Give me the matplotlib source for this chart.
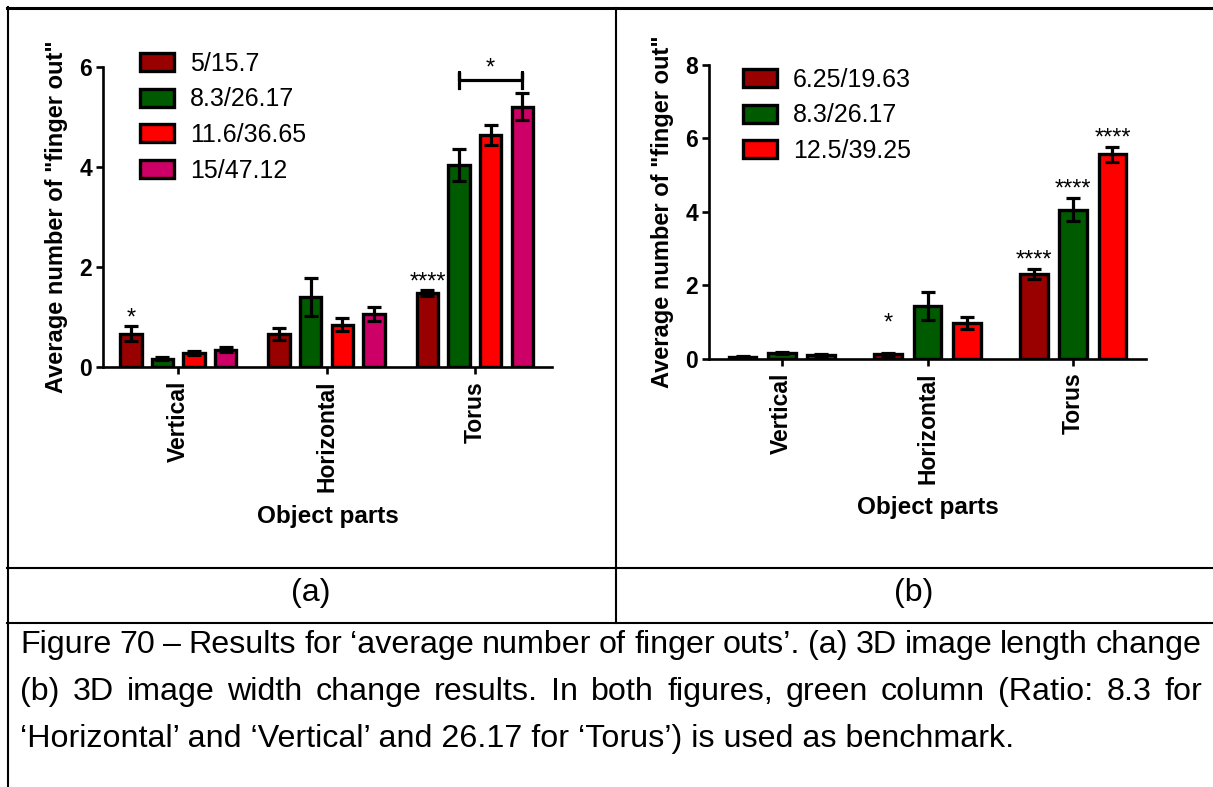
import numpy as np
import matplotlib
matplotlib.use('Agg')
import matplotlib.pyplot as plt
from matplotlib.lines import Line2D

plt.rcParams['font.family'] = ['Liberation Sans', 'DejaVu Sans']

# ---------------- DATA ----------------
parts = ['Vertical', 'Horizontal', 'Torus']

# (a) 3D image length change
a_labels = ['5/15.7', '8.3/26.17', '11.6/36.65', '15/47.12']
a_means = [[0.67, 0.67, 1.49],
           [0.17, 1.41, 4.04],
           [0.29, 0.85, 4.63],
           [0.35, 1.07, 5.20]]
a_sem = [[0.15, 0.12, 0.06],
         [0.03, 0.38, 0.32],
         [0.04, 0.13, 0.20],
         [0.05, 0.14, 0.27]]
a_colors = ['#990000', '#005a00', '#ff0000', '#cc0066']
# (series, part, text, offset in points above error bar)
a_stars = [(0, 0, '*', 1), (0, 2, '****', 1)]
a_bracket = (1, 3, 2, 5.73, '*')   # from series, to series, part, height, text

# (b) 3D image width change
b_labels = ['6.25/19.63', '8.3/26.17', '12.5/39.25']
b_means = [[0.05, 0.12, 2.30],
           [0.15, 1.43, 4.06],
           [0.10, 0.97, 5.57]]
b_sem = [[0.02, 0.04, 0.13],
         [0.03, 0.38, 0.32],
         [0.02, 0.17, 0.20]]
b_colors = ['#990000', '#005a00', '#ff0000']
b_stars = [(0, 1, '*', 17), (0, 2, '****', 2), (1, 2, '****', 2), (2, 2, '****', 2)]

caption = ["Figure 70 \u2013 Results for \u2018average number of finger outs\u2019. (a) 3D image length change",
           "(b) 3D image width change results. In both figures, green column (Ratio: 8.3 for",
           "\u2018Horizontal\u2019 and \u2018Vertical\u2019 and 26.17 for \u2018Torus\u2019) is used as benchmark."]

W, H = 1213, 787
fig = plt.figure(figsize=(W / 100, H / 100), dpi=100)


def px_axes(x0, y0, x1, y1):
    return fig.add_axes([x0 / W, 1 - y1 / H, (x1 - x0) / W, (y1 - y0) / H])


def bar_chart(ax, means, sem, labels, colors, slot, width, ymax, step, capsize):
    x = np.arange(len(parts))
    n = len(means)
    centers = []
    for i in range(n):
        xi = x + (i - (n - 1) / 2) * slot
        centers.append(xi)
        ax.bar(xi, means[i], width, color=colors[i], edgecolor='black',
               linewidth=2.4, label=labels[i], zorder=2)
        ax.errorbar(xi, means[i], yerr=sem[i], fmt='none', ecolor='black',
                    elinewidth=2.3, capsize=capsize, capthick=2.3, zorder=3)
    ax.set_ylim(0, ymax)
    ax.set_yticks(np.arange(0, ymax + 0.1, step))
    ax.set_xticks(x)
    ax.set_xticklabels(parts, rotation=90, fontsize=16.5, fontweight='bold')
    for t in ax.get_yticklabels():
        t.set_fontsize(16.5)
        t.set_fontweight('bold')
    for s in ['top', 'right']:
        ax.spines[s].set_visible(False)
    for s in ['left', 'bottom']:
        ax.spines[s].set_linewidth(1.9)
    ax.tick_params(axis='both', width=1.9, length=5, pad=3)
    ax.tick_params(axis='x', pad=5)
    ax.set_ylabel('Average number of "finger out"', fontsize=17,
                  fontweight='bold', labelpad=8)
    ax.set_xlabel('Object parts', fontsize=17.5, fontweight='bold', labelpad=9)
    return centers


def stars(ax, centers, means, sem, items):
    for i, p, txt, off in items:
        ax.annotate(txt, (centers[i][p], means[i][p] + sem[i][p]),
                    xytext=(0, off), textcoords='offset points',
                    ha='center', va='baseline', fontsize=17, annotation_clip=False)


def legend(ax, x, y):
    ax.legend(loc='upper left', bbox_to_anchor=(x / W, 1 - y / H),
              bbox_transform=fig.transFigure, frameon=False, fontsize=18,
              handlelength=1.35, handleheight=0.72, handletextpad=0.65,
              labelspacing=0.46, borderpad=0, borderaxespad=0)


# ---------------- PLOT (a) ----------------
ax1 = px_axes(103, 67, 552, 367)
c1 = bar_chart(ax1, a_means, a_sem, a_labels, a_colors, 0.213, 0.145, 6, 2, 4.7)
ax1.set_xlim(-0.507, 2.52)
stars(ax1, c1, a_means, a_sem, a_stars)
i0, i1, p, h, txt = a_bracket
ax1.plot([c1[i0][p], c1[i0][p], c1[i0][p], c1[i1][p], c1[i1][p], c1[i1][p]],
         [h - 0.16, h + 0.16, h, h, h + 0.16, h - 0.16], color='black',
         linewidth=2.3, clip_on=False, zorder=4)
ax1.annotate(txt, ((c1[i0][p] + c1[i1][p]) / 2, h), xytext=(0, 4),
             textcoords='offset points', ha='center', va='baseline',
             fontsize=17, annotation_clip=False)
legend(ax1, 140, 52)

# ---------------- PLOT (b) ----------------
ax2 = px_axes(709, 65, 1146, 358.6)
c2 = bar_chart(ax2, b_means, b_sem, b_labels, b_colors, 0.27, 0.19, 8, 2, 5.3)
ax2.set_xlim(-0.5, 2.5)
stars(ax2, c2, b_means, b_sem, b_stars)
legend(ax2, 743, 68)

# ---------------- TABLE + CAPTION ----------------
def hline(y, x0, x1, lw):
    fig.add_artist(Line2D([x0 / W, x1 / W], [1 - y / H, 1 - y / H], color='black',
                          linewidth=lw, transform=fig.transFigure))


def vline(x, y0, y1, lw):
    fig.add_artist(Line2D([x / W, x / W], [1 - y0 / H, 1 - y1 / H], color='black',
                          linewidth=lw, transform=fig.transFigure))


hline(8, 7, W, 2.2)
hline(567.5, 7, W, 1.5)
hline(623, 7, W, 1.5)
vline(8, 7, H, 1.5)
vline(615.5, 8, 623, 1.5)

cap_size = 23.2
fig.text(311 / W, 1 - 593 / H, '(a)', fontsize=cap_size, ha='center', va='center')
fig.text(914 / W, 1 - 593 / H, '(b)', fontsize=cap_size, ha='center', va='center')

renderer = fig.canvas.get_renderer()


def justified(line, x0, x1, y):
    words = line.split(' ')
    texts = [fig.text(0, 1 - y / H, w, fontsize=cap_size, ha='left', va='center')
             for w in words]
    widths = [t.get_window_extent(renderer).width for t in texts]
    gap = (x1 - x0 - sum(widths)) / (len(words) - 1)
    x = x0
    for t, w in zip(texts, widths):
        t.set_x(x / W)
        x += w + gap


for k, line in enumerate(caption):
    y = 645 + 47 * k
    if k < len(caption) - 1:
        justified(line, 20, 1202, y)
    else:
        fig.text(20 / W, 1 - y / H, line, fontsize=cap_size, ha='left', va='center')

fig.savefig('out.png', dpi=100)
